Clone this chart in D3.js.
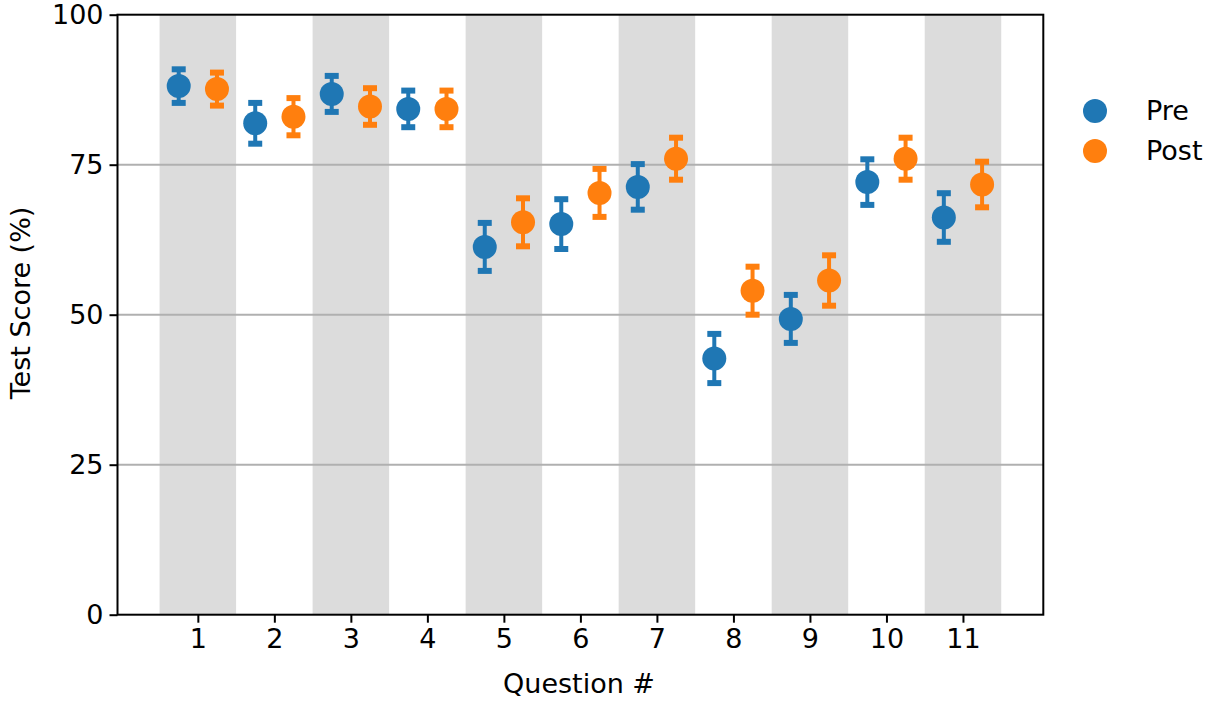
<!DOCTYPE html>
<html>
<head>
<meta charset="utf-8">
<script src="https://cdn.jsdelivr.net/npm/d3@7"></script>
<style>
  body { margin: 0; background: #fff; }
  svg { display: block; font-family: "DejaVu Sans", sans-serif; }
</style>
</head>
<body>
<div id="container"></div>
<script>
const questions = [1, 2, 3, 4, 5, 6, 7, 8, 9, 10, 11];
const preScores = [88.1, 81.9, 86.8, 84.3, 61.3, 65.1, 71.3, 42.7, 49.3, 72.1, 66.2];
const preErrors = [2.8, 3.4, 3.0, 3.05, 4.0, 4.15, 3.8, 4.1, 4.0, 3.8, 4.05];
const postScores = [87.6, 83.0, 84.7, 84.3, 65.4, 70.3, 76.0, 54.0, 55.7, 76.0, 71.7];
const postErrors = [2.75, 3.1, 3.05, 3.05, 4.0, 4.0, 3.5, 4.0, 4.2, 3.5, 3.8];
const yTicks = [0, 25, 50, 75, 100];
const seriesNames = ["Pre", "Post"];
const seriesColors = ["#1f77b4", "#ff7f0e"];

const w = 1211, h = 701;
const margin = { left: 117.5, right: 1043.3, top: 14.7, bottom: 614.7 };
const fontSize = 27;

const svg = d3.select('#container').append('svg')
  .attr('width', w)
  .attr('height', h);

const x = d3.scaleLinear().domain([-0.05, 12.05]).range([margin.left, margin.right]);
const y = d3.scaleLinear().domain([0, 100]).range([margin.bottom, margin.top]);

// alternating gray bands on odd questions
svg.append('g').selectAll('rect')
  .data(questions.filter(q => q % 2 === 1))
  .enter().append('rect')
  .attr('x', d => x(d - 0.5))
  .attr('y', y(100))
  .attr('width', d => x(d + 0.5) - x(d - 0.5))
  .attr('height', y(0) - y(100))
  .attr('fill', '#dcdcdc');

// horizontal grid
svg.append('g').selectAll('line')
  .data(yTicks.filter(t => t > 0 && t < 100))
  .enter().append('line')
  .attr('x1', margin.left).attr('x2', margin.right)
  .attr('y1', d => y(d)).attr('y2', d => y(d))
  .attr('stroke', '#b0b0b0')
  .attr('stroke-width', 2);

const series = [
  { name: seriesNames[0], color: seriesColors[0], offset: -0.25, vals: preScores, errs: preErrors },
  { name: seriesNames[1], color: seriesColors[1], offset: 0.25, vals: postScores, errs: postErrors }
];

series.forEach(s => {
  const pts = questions.map((q, i) => ({ q: q + s.offset, v: s.vals[i], e: s.errs[i] }));
  const g = svg.append('g');
  g.selectAll('.stem').data(pts).enter().append('line')
    .attr('x1', d => x(d.q)).attr('x2', d => x(d.q))
    .attr('y1', d => y(d.v + d.e)).attr('y2', d => y(d.v - d.e))
    .attr('stroke', s.color).attr('stroke-width', 4);
  [1, -1].forEach(sign => {
    g.selectAll('.cap' + sign).data(pts).enter().append('line')
      .attr('x1', d => x(d.q) - 7).attr('x2', d => x(d.q) + 7)
      .attr('y1', d => y(d.v + sign * d.e)).attr('y2', d => y(d.v + sign * d.e))
      .attr('stroke', s.color).attr('stroke-width', 6);
  });
  g.selectAll('circle').data(pts).enter().append('circle')
    .attr('cx', d => x(d.q)).attr('cy', d => y(d.v))
    .attr('r', 12)
    .attr('fill', s.color);
});

// axes
const xAxis = d3.axisBottom(x).tickValues(questions).tickSize(8).tickPadding(6).tickFormat(d3.format('d'));
const yAxis = d3.axisLeft(y).tickValues(yTicks).tickSize(8).tickPadding(6);

const xg = svg.append('g').attr('transform', `translate(0,${margin.bottom})`).call(xAxis);
const yg = svg.append('g').attr('transform', `translate(${margin.left},0)`).call(yAxis);
[xg, yg].forEach(g => {
  g.select('.domain').remove();
  g.selectAll('line').attr('stroke', '#000').attr('stroke-width', 2);
  g.selectAll('text').attr('font-size', fontSize).attr('fill', '#000').attr('font-family', '"DejaVu Sans", sans-serif');
});

// frame
svg.append('rect')
  .attr('x', margin.left).attr('y', margin.top)
  .attr('width', margin.right - margin.left)
  .attr('height', margin.bottom - margin.top)
  .attr('fill', 'none').attr('stroke', '#000').attr('stroke-width', 2);

// labels
svg.append('text')
  .attr('x', 579).attr('y', 693)
  .attr('text-anchor', 'middle').attr('font-size', fontSize)
  .text('Question #');
svg.append('text')
  .attr('transform', 'translate(30,303) rotate(-90)')
  .attr('text-anchor', 'middle').attr('font-size', fontSize)
  .text('Test Score (%)');

// legend
const legend = svg.append('g').attr('transform', 'translate(1095,111)');
series.forEach((s, i) => {
  legend.append('circle').attr('cx', 0).attr('cy', i * 40).attr('r', 12).attr('fill', s.color);
  legend.append('text').attr('x', 51).attr('y', i * 40 + 9).attr('font-size', fontSize).text(s.name);
});
</script>
</body>
</html>
